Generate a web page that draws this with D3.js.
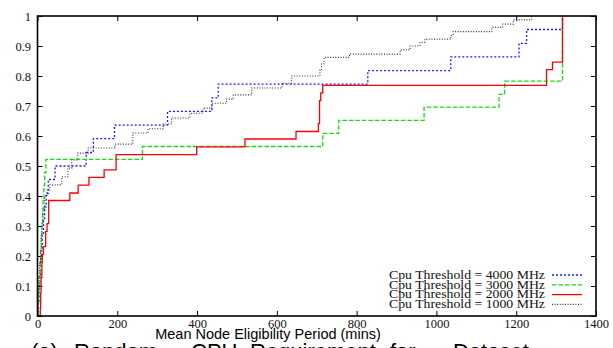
<!DOCTYPE html>
<html>
<head>
<meta charset="utf-8">
<script src="https://cdn.jsdelivr.net/npm/d3@7"></script>
<style>
  html, body { margin: 0; padding: 0; background: #fff; }
  svg { display: block; }
</style>
</head>
<body>
<svg id="chart" width="613" height="348"></svg>
<script>
// Empirical CDFs of mean node eligibility period, one per CPU threshold.
// Each pair of arrays holds step positions (mins) and cumulative fractions.
const cdf4000X = [0, 2, 4, 6, 8, 10, 12, 15, 18, 22, 27, 44, 122, 140, 193, 326, 437, 453, 828, 1036, 1207, 1226, 1316];
const cdf4000Y = [0, 0.045, 0.091, 0.136, 0.182, 0.227, 0.273, 0.318, 0.364, 0.409, 0.455, 0.5, 0.545, 0.591, 0.636, 0.682, 0.727, 0.773, 0.818, 0.864, 0.909, 0.955, 1];

const cdf3000X = [0, 1, 3, 5, 7, 8, 10, 11, 13, 14, 16, 18, 21, 263, 715, 755, 969, 1157, 1171, 1316];
const cdf3000Y = [0, 0.043, 0.087, 0.13, 0.174, 0.217, 0.261, 0.304, 0.348, 0.391, 0.435, 0.478, 0.522, 0.565, 0.609, 0.652, 0.696, 0.739, 0.783, 1];

const cdf2000X = [0, 7, 8, 9, 11, 12, 14.5, 20.5, 24, 28, 81, 102, 129, 167, 197, 399, 520, 648, 704, 707, 710, 715, 1276, 1291, 1316];
const cdf2000Y = [0, 0.026, 0.077, 0.128, 0.179, 0.205, 0.231, 0.282, 0.308, 0.385, 0.41, 0.436, 0.462, 0.487, 0.538, 0.564, 0.59, 0.615, 0.641, 0.718, 0.744, 0.769, 0.821, 0.846, 1];

const cdf1000X = [0, 1, 2, 3, 5, 7, 9, 11, 14, 18, 24, 31, 61, 76, 86, 101, 127, 194, 239, 277, 315, 336, 382, 415, 437, 474, 491, 537, 613, 637, 708, 712, 718, 782, 909, 934, 959, 971, 1036, 1042, 1139, 1166, 1193, 1239];
const cdf1000Y = [0, 0.04, 0.09, 0.13, 0.18, 0.22, 0.27, 0.31, 0.36, 0.4, 0.42, 0.437, 0.464, 0.493, 0.52, 0.543, 0.56, 0.573, 0.61, 0.624, 0.64, 0.66, 0.676, 0.693, 0.709, 0.723, 0.737, 0.76, 0.776, 0.8, 0.82, 0.84, 0.862, 0.873, 0.887, 0.9, 0.912, 0.923, 0.935, 0.948, 0.962, 0.973, 0.987, 1];

const seriesLabels = ["Cpu Threshold = 4000 MHz", "Cpu Threshold = 3000 MHz", "Cpu Threshold = 2000 MHz", "Cpu Threshold = 1000 MHz"];
const xTicks = [0, 200, 400, 600, 800, 1000, 1200, 1400];
const yTicks = [0, 0.1, 0.2, 0.3, 0.4, 0.5, 0.6, 0.7, 0.8, 0.9, 1];
const xTitle = "Mean Node Eligibility Period (mins)";
const captionWords = ["(a)", "Random", "CPU", "Requirement", "for", "Dataset"];

const styles = [
  { color: "#1a1aff", dash: "2,2", width: 1.3 },
  { color: "#10e010", dash: "4.5,2", width: 1.3 },
  { color: "#ff0000", dash: null, width: 1.3 },
  { color: "#333333", dash: "1,1.6", width: 1.1 }
];

const series = [
  { xs: cdf4000X, ys: cdf4000Y },
  { xs: cdf3000X, ys: cdf3000Y },
  { xs: cdf2000X, ys: cdf2000Y },
  { xs: cdf1000X, ys: cdf1000Y }
];

const svg = d3.select("#chart");
const L = 37.5, R = 596, T = 16, B = 316;

const x = d3.scaleLinear().domain([0, 1400]).range([L, R]);
const y = d3.scaleLinear().domain([0, 1]).range([B, T]);

const serif = "'Liberation Serif', 'Times New Roman', serif";
const sans = "'Liberation Sans', Arial, Helvetica, sans-serif";

// Axes with inward ticks, mirrored on top and right
const fmtY = d => (d === 0 ? "0" : d === 1 ? "1" : d3.format(".1f")(d));

const gx = svg.append("g").attr("transform", `translate(0,${B})`)
  .call(d3.axisBottom(x).tickValues(xTicks).tickSize(-5).tickPadding(3).tickFormat(d3.format("d")));
const gy = svg.append("g").attr("transform", `translate(${L},0)`)
  .call(d3.axisLeft(y).tickValues(yTicks).tickSize(-5).tickPadding(6.5).tickFormat(fmtY));
const gxt = svg.append("g").attr("transform", `translate(0,${T})`)
  .call(d3.axisTop(x).tickValues(xTicks).tickSize(-5).tickFormat(""));
const gyr = svg.append("g").attr("transform", `translate(${R},0)`)
  .call(d3.axisRight(y).tickValues(yTicks).tickSize(-5).tickFormat(""));

[gx, gy, gxt, gyr].forEach(g => {
  g.select(".domain").remove();
  g.selectAll(".tick line").attr("stroke", "#000").attr("stroke-width", 1);
  g.selectAll(".tick text").attr("font-family", serif).attr("font-size", "12.5px").attr("fill", "#111");
});

// Curves
const line = d3.line()
  .x(d => x(d[0]))
  .y(d => y(d[1]))
  .curve(d3.curveStepAfter);

const plot = svg.append("g");
series.forEach((s, i) => {
  const pts = s.xs.map((v, k) => [v, s.ys[k]]);
  const st = styles[i];
  plot.append("path")
    .datum(pts)
    .attr("fill", "none")
    .attr("stroke", st.color)
    .attr("stroke-width", st.width)
    .attr("stroke-dasharray", st.dash)
    .attr("d", line);
});

// Frame
svg.append("rect")
  .attr("x", L).attr("y", T)
  .attr("width", R - L).attr("height", B - T)
  .attr("fill", "none").attr("stroke", "#000").attr("stroke-width", 1.6);

// Legend
const legend = svg.append("g");
seriesLabels.forEach((lab, i) => {
  const cy = 275 + i * 9.8;
  legend.append("text")
    .attr("x", 545).attr("y", cy + 3.8)
    .attr("text-anchor", "end")
    .attr("font-family", serif).attr("font-size", "12.5px")
    .attr("textLength", 156)
    .attr("lengthAdjust", "spacingAndGlyphs")
    .attr("fill", "#111")
    .text(lab);
  legend.append("line")
    .attr("x1", 552).attr("x2", 582)
    .attr("y1", cy).attr("y2", cy)
    .attr("stroke", styles[i].color)
    .attr("stroke-width", styles[i].width)
    .attr("stroke-dasharray", styles[i].dash);
});

// Axis title
svg.append("text")
  .attr("x", 268).attr("y", 338.5)
  .attr("text-anchor", "middle")
  .attr("font-family", sans).attr("font-size", "14.5px")
  .attr("fill", "#000")
  .text(xTitle);

// Caption (runs off the bottom edge)
const capX = [31, 74, 191, 250, 390, 453];
const cap = svg.append("text")
  .attr("y", 359)
  .attr("font-family", sans).attr("font-size", "22px")
  .attr("fill", "#000");
captionWords.forEach((w, i) => {
  cap.append("tspan").attr("x", capX[i]).text(w);
});
</script>
</body>
</html>
